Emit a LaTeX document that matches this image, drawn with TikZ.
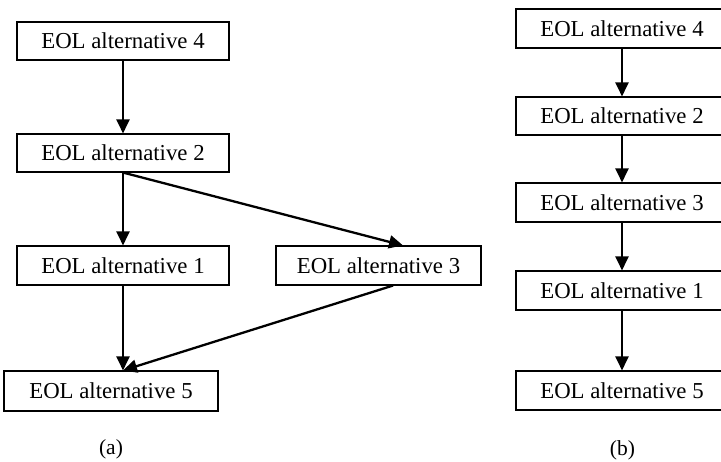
\documentclass[tikz,border=0pt]{standalone}
\usepackage{fontspec}
\setmainfont{Liberation Serif}
\usetikzlibrary{arrows.meta,calc}
\begin{document}
\begin{tikzpicture}[x=1pt,y=-1pt,
  box/.style={draw,line width=1.1pt,inner sep=0pt,minimum height=38pt,font=\fontsize{22.8}{26}\selectfont},
  arr/.style={line width=2.3pt,-{Triangle[length=14pt,width=13pt]}},
  sublabel/.style={font=\fontsize{21.5}{24}\selectfont}]
\clip (0,0) rectangle (721,462);
\useasboundingbox (0,0) rectangle (721,462);
% (a)
\node[box,minimum width=212pt] (a4) at (123,41) {EOL alternative 4};
\node[box,minimum width=212pt] (a2) at (123,153) {EOL alternative 2};
\node[box,minimum width=212pt,minimum height=39pt] (a1) at (123,265.5) {EOL alternative 1};
\node[box,minimum width=205pt,minimum height=39pt] (a3) at (378.5,265.5) {EOL alternative 3};
\node[box,minimum width=214pt,minimum height=40pt] (a5) at (111,391) {EOL alternative 5};
\coordinate (a5t) at (a1.south |- a5.north);
\draw[arr] (a4) -- (a2);
\draw[arr] (a2) -- (a1);
\draw[arr] (a2.south) -- ($(a3.north)+(24.5,0)$);
\draw[arr] (a1.south) -- (a5t);
\draw[arr] ($(a3.south)+(14.5,0)$) -- (a5t);
\node[sublabel] (la) at (111,449) {(a)};
% (b)
\node[box,minimum width=212pt,minimum height=39pt] (b4) at (622,28.5) {EOL alternative 4};
\node[box,minimum width=212pt] (b2) at (622,116) {EOL alternative 2};
\node[box,minimum width=212pt,minimum height=39pt] (b3) at (622,202.5) {EOL alternative 3};
\node[box,minimum width=212pt,minimum height=39pt] (b1) at (622,290.5) {EOL alternative 1};
\node[box,minimum width=212pt,minimum height=39pt] (b5) at (622,390.5) {EOL alternative 5};
\draw[arr] (b4) -- (b2);
\draw[arr] (b2) -- (b3);
\draw[arr] (b3) -- (b1);
\draw[arr] (b1) -- (b5);
\node[sublabel] (lb) at (622.5,450) {(b)};
\end{tikzpicture}
\end{document}
